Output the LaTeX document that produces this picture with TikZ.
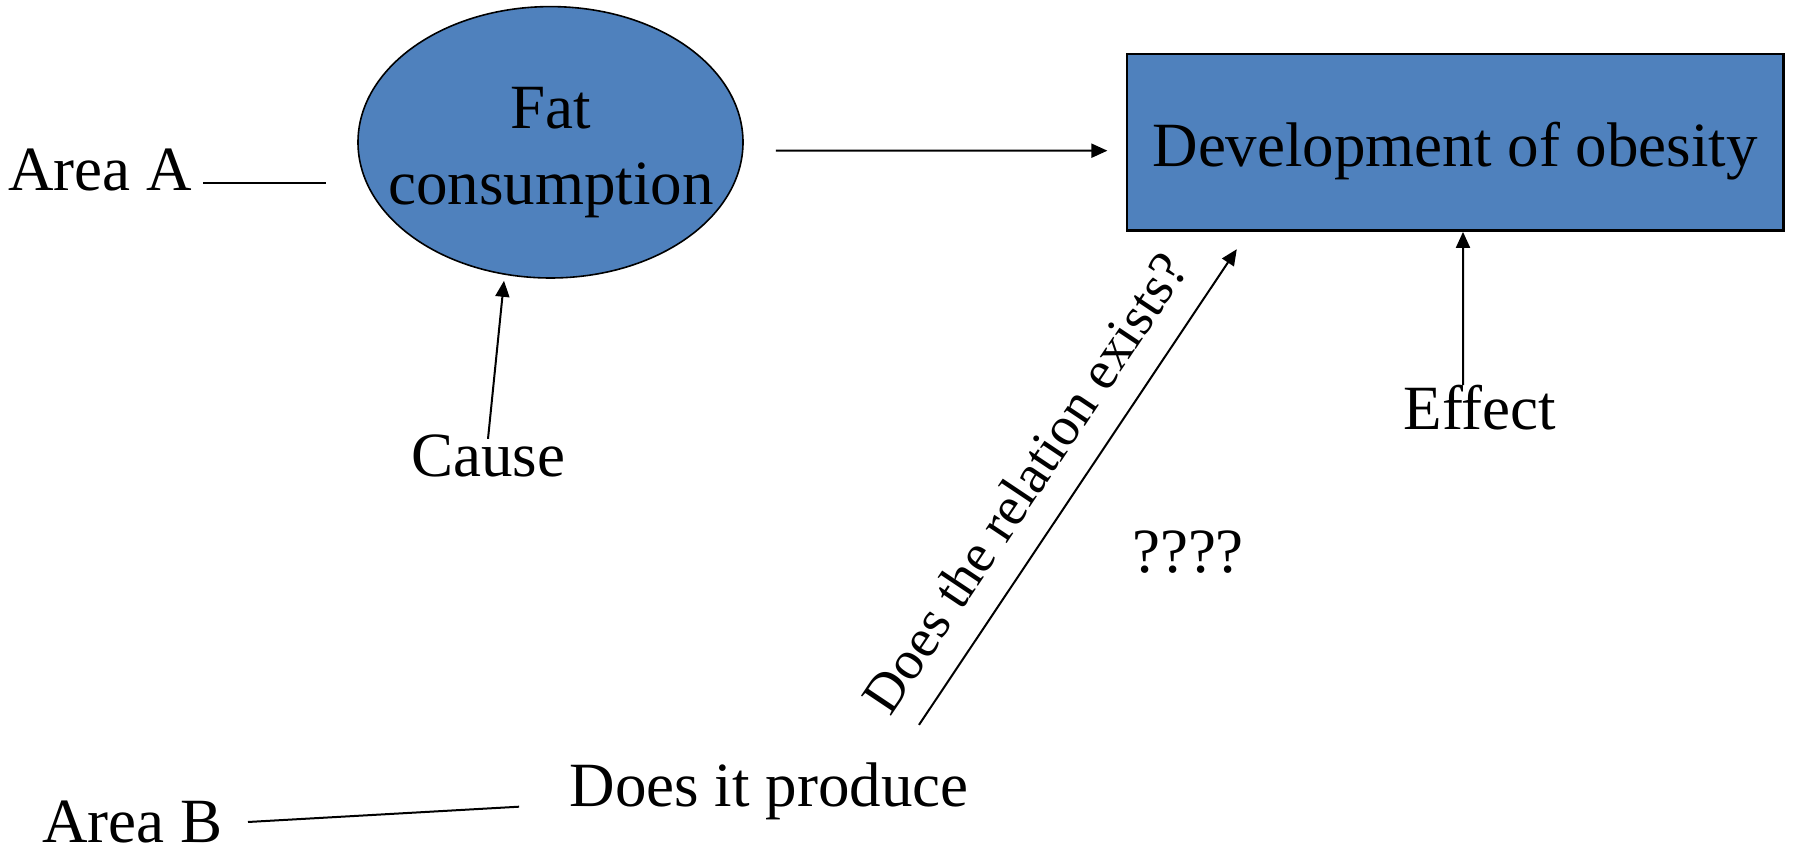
\documentclass[tikz,border=0pt]{standalone}
\usepackage{fontspec}
\setmainfont{Liberation Serif}
\usetikzlibrary{shapes.geometric,arrows.meta}
\definecolor{boxblue}{HTML}{4F81BD}
\begin{document}
\begin{tikzpicture}[x=0.5pt,y=-0.5pt,
  txt/.style={inner sep=0pt, anchor=base, font=\fontsize{31.5}{38}\selectfont},
  arr/.style={-{Triangle[length=8pt,width=7pt]}, line width=1pt},
  ln/.style={line width=1pt}]
\useasboundingbox (0,0) rectangle (1796,854);
% shapes
\node[ellipse, draw, line width=0.8pt, fill=boxblue, inner sep=0pt,
      minimum width=192.5pt, minimum height=135.7pt] (fat) at (550.5,142.3) {};
\node[inner sep=0pt, anchor=north, align=center,
      font=\fontsize{31.5}{38}\selectfont] (fattxt) at (551,86.7) {Fat\\consumption};
\node[rectangle, draw, line width=1.2pt, fill=boxblue, inner sep=0pt,
      minimum width=328.2pt, minimum height=88.2pt,
      text height=24.2pt, text depth=0pt,
      font=\fontsize{31.5}{38}\selectfont] (obes) at (1455.2,142.5) {Development of obesity};
% texts
\node[txt] (areaA) at (100,190.7) {Area A};
\node[txt] (cause) at (488,477) {Cause};
\node[txt] (effect) at (1480,430) {Effect};
\node[txt] (qq) at (1188,573) {????};
\node[txt] (produce) at (769,806.7) {Does it produce};
\node[txt] (areaB) at (132.5,843) {Area B};
% connectors
\draw[ln] ([shift={(5.5pt,4pt)}]areaA.base east) -- ([shift={(-15.5pt,-20.2pt)}]fat.west);
\draw[arr] ([shift={(16pt,-4.2pt)}]fat.east) -- ([shift={(-9.2pt,-4.1pt)}]obes.west);
\draw[arr] ([yshift=-2pt]cause.north) -- ([shift={(-23.25pt,-1pt)}]fat.south);
\draw[arr] ([xshift=-8.5pt]effect.north) -- ([xshift=3.9pt]obes.south);
\draw[ln] ([shift={(12.5pt,10.5pt)}]areaB.base east) -- ([shift={(-25pt,0pt)}]produce.base west);
\draw[arr] ([shift={(75pt,18.85pt)}]produce.north) -- ([shift={(55.5pt,-8.65pt)}]obes.south west)
  node[pos=0.455, sloped, above=13pt, inner sep=0pt, font=\fontsize{27.5}{33}\selectfont] (rel) {Does the relation exists?};
\end{tikzpicture}
\end{document}
